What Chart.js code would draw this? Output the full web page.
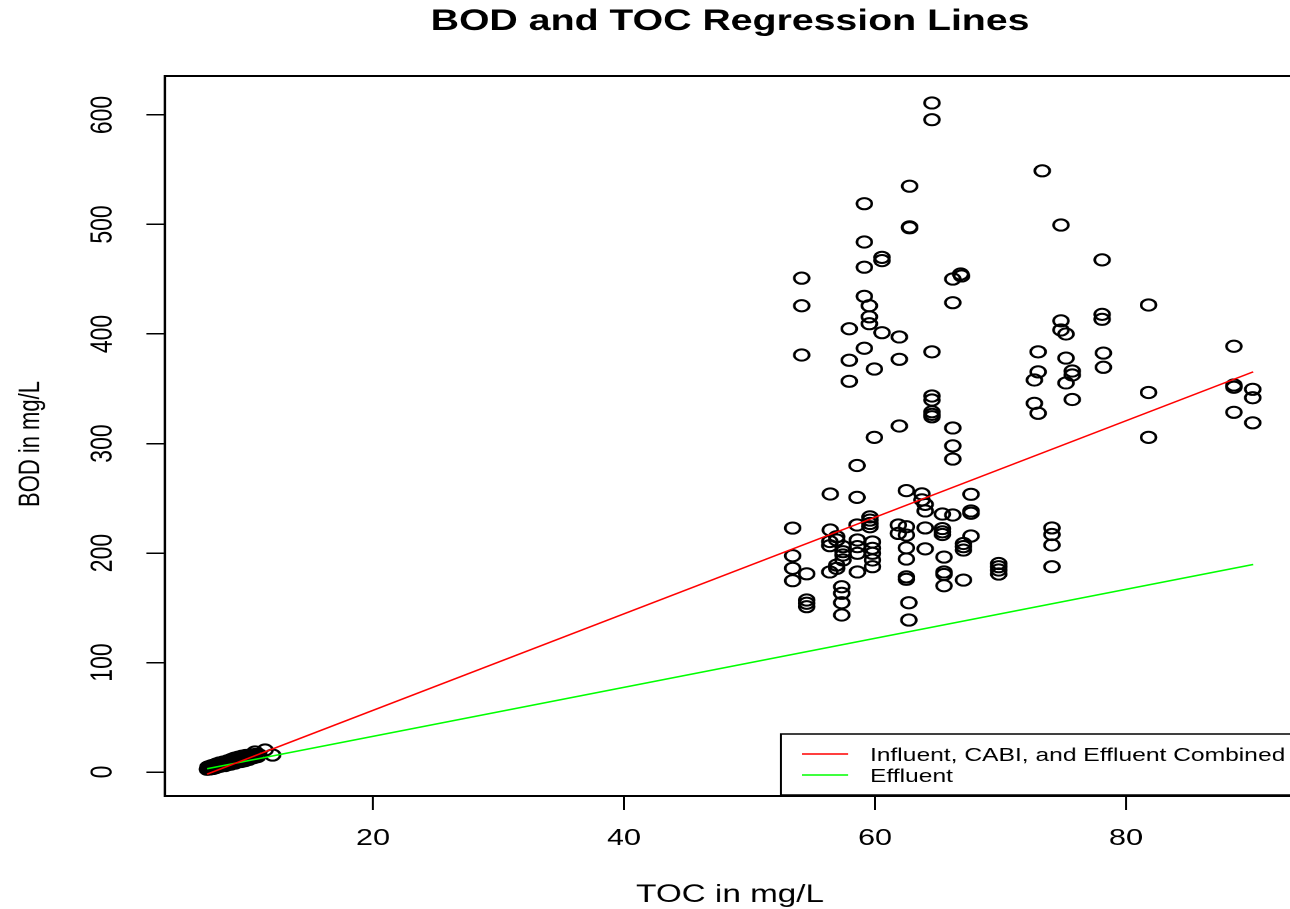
<!DOCTYPE html>
<html><head><meta charset="utf-8">
<script src="https://cdn.jsdelivr.net/npm/chart.js@4.4.1/dist/chart.umd.min.js"></script>
<style>
html,body{margin:0;padding:0;background:#fff;overflow:hidden;width:1290px;height:909px;}
#wrap{position:absolute;left:0;top:0;width:1010px;height:909px;transform:scaleX(1.33);transform-origin:0 0;}
canvas{display:block;}
</style></head><body>
<div id="wrap"><canvas id="c" width="1010" height="909"></canvas></div>
<script>
// ---------- data ----------
const chartTitle = 'BOD and TOC Regression Lines';
const xTitle = 'TOC in mg/L';
const yTitle = 'BOD in mg/L';
const xTicks = [20, 40, 60, 80];
const yTicks = [0, 100, 200, 300, 400, 500, 600];
const xLimits = [3.43, 93.47];
const yLimits = [-21.9, 635.6];

// Influent / CABI samples: TOC values and BOD values
const influentTOC = [64.54,64.54,73.33,62.76,59.15,62.76,62.76,74.82,59.15,60.56,60.56,78.1,59.15,54.16,66.83,66.9,66.2,54.16,59.15,59.55,66.2,81.8,59.55,59.55,78.1,78.1,74.82,74.82,75.22,57.95,60.56,61.94,88.6,59.15,64.54,54.16,73.0,78.2,57.95,61.94,75.22,59.95,78.2,73.0,75.72,75.72,72.7,75.22,57.95,88.6,88.6,90.1,90.1,81.8,64.54,64.54,64.54,64.54,64.54,72.7,75.72,73.0,88.6,90.1,61.94,66.2,59.95,81.8,66.2,66.2,58.57,56.44,58.57,62.5,63.74,63.74,64.0,64.0,67.65,65.37,66.2,67.65,67.65,59.6,59.6,59.6,59.6,58.57,53.44,56.44,61.86,62.5,61.86,62.5,64.0,65.37,65.37,65.37,67.65,56.95,56.95,56.4,56.4,57.45,57.45,57.45,57.45,58.6,58.6,58.6,59.8,59.8,59.8,59.8,59.8,67.05,67.05,67.05,62.5,64.0,74.1,74.1,74.1,74.1,53.44,53.44,53.44,54.56,56.4,56.95,56.95,58.6,62.5,65.5,65.5,65.5,65.5,62.5,62.5,67.05,69.86,69.86,69.86,69.86,57.35,57.35,57.35,57.35,54.56,54.56,54.56,62.7,62.7];
const influentBOD = [611,595.7,549,535,519,497,497.8,499.5,484,470,467,467.7,461,451,454.8,453,450.2,425.8,434.4,425.8,428.6,426.5,415.7,409.4,417.9,413.4,412,403.7,400,404.8,401.2,397.3,388.8,387,383.7,380.8,383.7,382.6,376,376.9,378,368,369.6,365.4,366.2,362.6,358,355.3,356.8,353.4,351.4,349.5,341.8,346.6,343.4,339.7,329.0,326.6,324.4,336.7,340.2,327.6,328.5,318.9,316,314.2,305.6,305.6,297.8,285.8,279.9,253.9,250.8,257,254,248.5,244.4,238.4,253.6,235.6,234.7,238.4,236.3,233,230.1,227,224,225.6,222.8,221,225.6,224,217.9,216.4,222.9,222.3,219.3,216.9,215.5,214.9,211.9,210.5,206.7,205.8,201.2,198.2,193.6,211.9,205.8,199.7,210.1,204.3,199.7,193.6,187.5,208.7,205.8,202.7,204.7,203.8,222.9,216.9,207.3,187.5,197.5,186,174.7,181,182.7,189,186,182.7,194.5,196.3,182.7,180.4,170.1,178.2,176,175.3,190.4,187.5,184.5,180.8,169.2,163.2,154.6,143.4,157.1,154.1,151,154.6,138.8];

// Effluent samples
const effluentTOC = [6.8,6.85,6.9,7.0,7.05,7.1,7.2,7.25,7.3,7.4,7.45,7.5,7.6,7.7,7.75,7.8,7.9,8.0,8.05,8.1,8.2,8.3,8.35,8.4,8.5,8.6,8.65,8.7,8.8,8.9,8.95,9.0,9.1,9.2,9.25,9.3,9.4,9.5,9.55,9.6,9.7,9.8,9.85,9.9,10.0,10.1,10.2,10.3,10.4,10.5,10.6,10.8,10.9,10.6,11.4,12.0];
const effluentBOD = [2.5,4.6,3.1,2.8,5.4,3.9,6.0,3.3,4.7,5.8,3.9,7.2,4.8,6.6,8.3,5.2,7.4,6.0,9.1,7.8,5.9,8.8,6.7,10.2,7.9,9.6,7.1,11.4,8.6,10.3,12.6,8.2,11.0,9.4,13.5,10.7,12.2,9.6,14.4,11.6,13.0,10.4,15.1,12.3,13.8,11.5,15.6,12.8,14.6,13.2,16.0,14.1,15.8,18.3,20.1,15.5];

// Regression line end points
const lineLabels = ['Influent, CABI, and Effluent Combined', 'Effluent'];
const lineColors = ['#ff0000', '#00ff00'];
const combinedLineTOC = [6.77, 90.13];
const combinedLineBOD = [-2.0, 365.4];
const effluentLineTOC = [6.77, 90.13];
const effluentLineBOD = [3.0, 189.5];

const toPts = (xs, ys) => xs.map((x, i) => ({x: x, y: ys[i]}));

const FONT = '"Liberation Sans", Arial, Helvetica, sans-serif';

const decor = {
  id: 'decor',
  afterDraw(chart) {
    const ctx = chart.ctx, a = chart.chartArea;
    const xs = chart.scales.x, ys = chart.scales.y;
    ctx.save();
    // top of the box
    ctx.strokeStyle = '#000'; ctx.lineWidth = 2;
    ctx.beginPath(); ctx.moveTo(a.left - 1, a.top); ctx.lineTo(a.right, a.top); ctx.stroke();
    ctx.fillStyle = '#000';
    // title
    ctx.font = 'bold 29.5px ' + FONT;
    ctx.textAlign = 'center'; ctx.textBaseline = 'alphabetic';
    ctx.fillText(chartTitle, (a.left + a.right) / 2, 30);
    // x tick labels
    ctx.font = '23px ' + FONT;
    xTicks.forEach(v => ctx.fillText(String(v), xs.getPixelForValue(v), 845));
    // x title
    ctx.font = '25px ' + FONT;
    ctx.fillText(xTitle, (a.left + a.right) / 2, 902);
    // y tick labels (rotated)
    ctx.font = '23px ' + FONT;
    yTicks.forEach(v => {
      ctx.save();
      ctx.translate(84, ys.getPixelForValue(v));
      ctx.rotate(-Math.PI / 2);
      ctx.fillText(String(v), 0, 0);
      ctx.restore();
    });
    // y title
    ctx.save();
    ctx.font = '22px ' + FONT;
    ctx.translate(29.5, (a.top + a.bottom) / 2 + 8);
    ctx.rotate(-Math.PI / 2);
    ctx.fillText(yTitle, 0, 0);
    ctx.restore();
    // legend
    const lx = 587.2, ly = 734, lb = 795;
    ctx.fillStyle = '#fff';
    ctx.fillRect(lx, ly, a.right - lx, lb - ly);
    ctx.strokeStyle = '#000'; ctx.lineWidth = 1.5;
    ctx.beginPath();
    ctx.moveTo(a.right, ly); ctx.lineTo(lx, ly); ctx.lineTo(lx, lb); ctx.lineTo(a.right, lb);
    ctx.stroke();
    ctx.font = '18.5px ' + FONT;
    ctx.textAlign = 'left';
    const rows = [754, 775];
    lineLabels.forEach((lab, i) => {
      ctx.strokeStyle = lineColors[i]; ctx.lineWidth = 1.5;
      ctx.beginPath(); ctx.moveTo(603, rows[i]); ctx.lineTo(637.6, rows[i]); ctx.stroke();
      ctx.fillStyle = '#000';
      ctx.fillText(lab, 654.1, rows[i] + 6.8);
    });
    ctx.restore();
  }
};

const pointStyleCommon = {
  showLine: false, pointStyle: 'circle', pointRadius: 5.6, pointBorderWidth: 2,
  pointBorderColor: '#000', pointBackgroundColor: 'rgba(0,0,0,0)', order: 2
};

new Chart(document.getElementById('c'), {
  type: 'scatter',
  data: {
    datasets: [
      Object.assign({label: 'Influent and CABI', data: toPts(influentTOC, influentBOD)}, pointStyleCommon),
      Object.assign({label: 'Effluent samples', data: toPts(effluentTOC, effluentBOD)}, pointStyleCommon),
      {label: lineLabels[0], data: toPts(combinedLineTOC, combinedLineBOD), showLine: true, borderColor: lineColors[0], borderWidth: 1.5, pointRadius: 0, order: 0},
      {label: lineLabels[1], data: toPts(effluentLineTOC, effluentLineBOD), showLine: true, borderColor: lineColors[1], borderWidth: 1.5, pointRadius: 0, order: 0}
    ]
  },
  options: {
    responsive: false, animation: false, devicePixelRatio: 2,
    layout: {padding: {left: 0, top: 76, right: 36.3, bottom: 0}},
    plugins: {legend: {display: false}, title: {display: false}, tooltip: {enabled: false}},
    scales: {
      x: {
        type: 'linear', min: xLimits[0], max: xLimits[1],
        afterBuildTicks: s => { s.ticks = xTicks.map(v => ({value: v})); },
        afterFit: s => { s.height = 113; },
        ticks: {display: false},
        grid: {display: true, drawOnChartArea: false, drawTicks: true, tickLength: 14, color: '#000', lineWidth: 1.5},
        border: {display: true, color: '#000', width: 2}
      },
      y: {
        type: 'linear', min: yLimits[0], max: yLimits[1],
        afterBuildTicks: s => { s.ticks = yTicks.map(v => ({value: v})); },
        afterFit: s => { s.width = 124.1; },
        ticks: {display: false},
        grid: {display: true, drawOnChartArea: false, drawTicks: true, tickLength: 14, color: '#000', lineWidth: 1.5},
        border: {display: true, color: '#000', width: 2}
      }
    }
  },
  plugins: [decor]
});
</script>
</body></html>
